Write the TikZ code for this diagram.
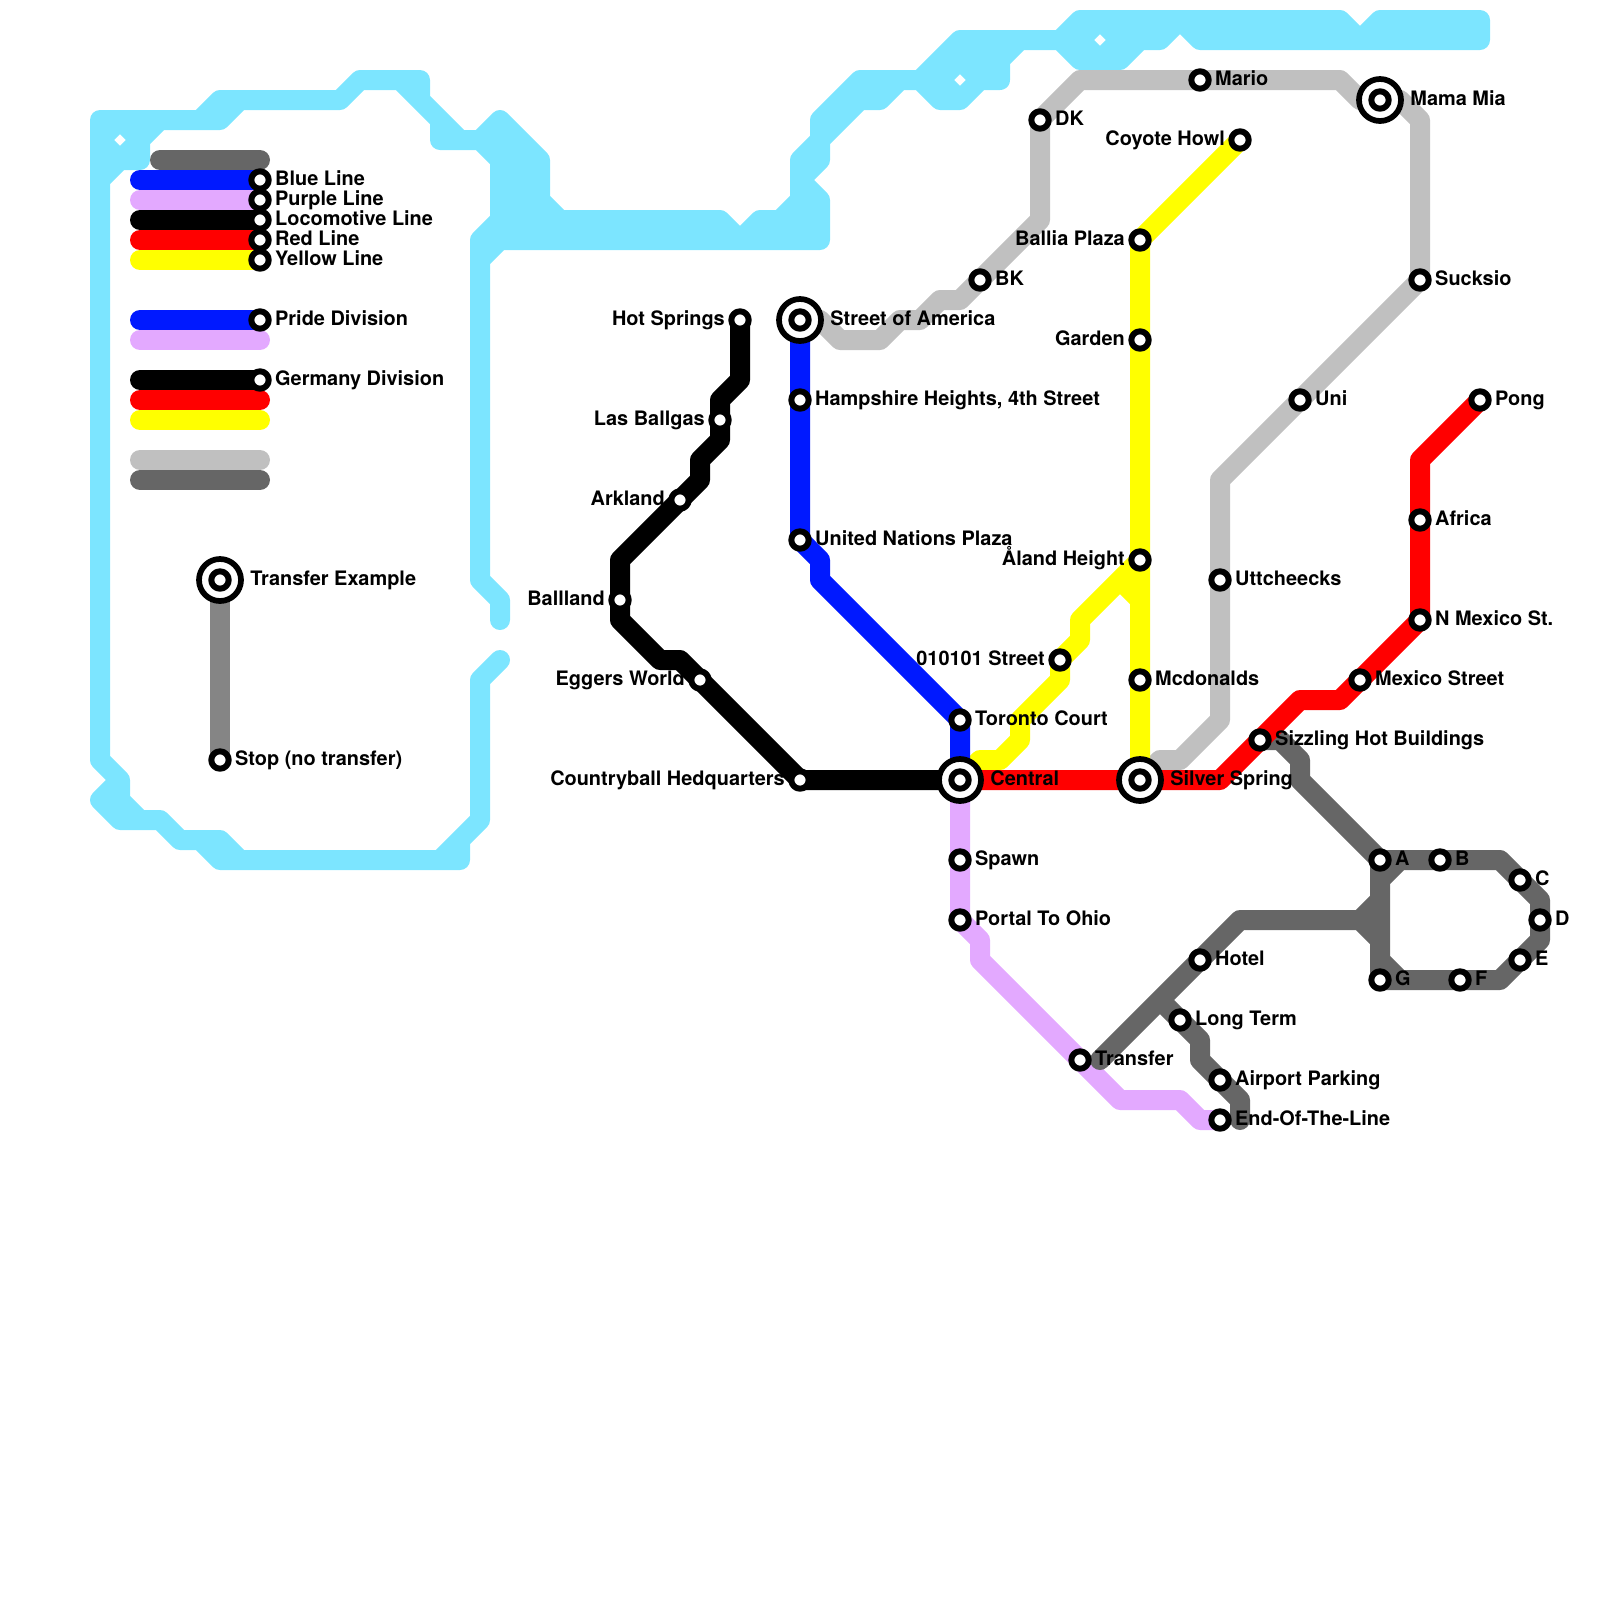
\documentclass[tikz,border=0pt]{standalone}
\usepackage{fontspec}
\setmainfont{TeX Gyre Heros}
\definecolor{skyline}{HTML}{7CE5FF}
\definecolor{blueline}{HTML}{0019FF}
\definecolor{purpleline}{HTML}{E3A9FF}
\definecolor{silverline}{HTML}{C0C0C0}
\definecolor{darkline}{HTML}{666666}
\definecolor{keyline}{HTML}{858585}
\definecolor{yellowline}{HTML}{FFFF00}
\definecolor{redline}{HTML}{FF0000}
\begin{document}
\begin{tikzpicture}[x=.5cm, y=-.5cm, line cap=round, line join=round, line width=.5cm,
	font=\fontsize{14.17}{14.17}\selectfont\bfseries,
	stop/.style={circle, draw=black, fill=white, line width=.15cm, minimum size=.435cm, inner sep=0pt, outer sep=0pt},
	hub/.style={circle, draw=black, fill=white, line width=.143cm, minimum size=1.05cm, inner sep=0pt, outer sep=0pt},
	rtext/.style={anchor=base west, inner sep=0pt, outer sep=0pt, xshift=.38cm, yshift=-.125cm},
	ltext/.style={anchor=base east, inner sep=0pt, outer sep=0pt, xshift=-.38cm, yshift=-.125cm},
	htext/.style={anchor=base west, inner sep=0pt, outer sep=0pt, xshift=.76cm, yshift=-.125cm}]
	\useasboundingbox (0,0) rectangle (80,80);
	
	\foreach \n/\x/\y in {central/48/39,silver/57/39,america/40/16,mamamia/69/5,example/11/29,
		hampshire/40/20,nations/40/27,toronto/48/36,hotsprings/37/16,ballgas/36/21,arkland/34/25,
		ballland/31/30,eggers/35/34,country/40/39,spawn/48/43,portal/48/46,transfer/54/53,endline/61/56,
		sizzling/63/37,mexico/68/34,nmexico/71/31,africa/71/26,pong/74/20,bk/49/14,dk/52/6,mario/60/4,
		sucksio/71/14,uni/65/20,uttcheecks/61/29,coyote/62/7,ballia/57/12,garden/57/17,aland/57/28,
		mcdonalds/57/34,street/53/33,hotel/60/48,longterm/59/51,airport/61/54,
		a/69/43,b/72/43,c/76/44,d/77/46,e/76/48,f/73/49,g/69/49,
		keyblue/13/9,keypurple/13/10,keyblack/13/11,keyred/13/12,keyyellow/13/13,
		keypride/13/16,keygermany/13/19,keystop/11/38}
	\coordinate (\n) at (\x,\y);
	
	% water
	\draw[skyline] (5,9)--(6,8)--(7,8)--(7,7)--(8,6)
	(5,7)--(6,6)--(7,7)--(6,8)--cycle
	(5,38)--(5,6)--(11,6)--(12,5)
	(10,6)--(11,5)--(17,5)--(18,4)--(21,4)--(21,5)
	(20,4)--(23,7) (22,6)--(22,7)--(24,7)--(25,6)--(27,8)--(27,10)--(28,11)--(36,11)--(37,12)--(38,11)--(39,11)--(40,10)--(40,8)--(41,7)--(41,6)--(43,4)--(46,4)--(48,2)--(53,2)--(54,1)--(67,1)--(68,2)--(69,1)--(74,1)--(74,2)--(60,2)--(59,1)--(58,2)--(56,2)
	(57,2)--(56,3)--(54,3)--(53,2)--(54,2)
	(54,2)--(55,1)--(56,2)--(55,3)--cycle
	(24,7)--(25,8)--(25,11)--(24,12)--(24,29)--(25,30)--(25,31)
	(25,6)--(25,8) (25.5,7)--(25.5,12) (26,7)--(26,12) (26.5,8)--(26.5,12) (27,10)--(27,12) (27,11)--(28,11)
	(24,13)--(25,12)--(41,12)--(41,10)--(40,9)--(41,8)--(41,7)--(43,5)--(44,5)--(45,4)
	(28,11.5)--(36,11.5) (38,11.5)--(41,11.5) (40,10)--(40,12) (40.5,10)--(40.5,12)
	(46,4)--(47,5)--(48,5)--(51,2)
	(47,4)--(48,3)--(49,4)--(48,5)--cycle
	(48,2)--(50,4)--(50,3) (49,3)--(50,3) (49,4)--(50,4) (49,2.5)--(50,3.5)
	(43,4.5)--(44,4.5)
	(56,1.5)--(57.5,1.5) (60,1.5)--(67,1.5) (69,1.5)--(74,1.5)
	(25,33)--(24,34)--(24,41)--(22,43)
	(23,42)--(23,43)--(12,43)--(11,42)--(9,42)--(8,41)--(7,41)--(6,40)--(6,39)--(5,38)
	(10,42)--(11,43)--(12,43)
	(6,39)--(5,40)--(6,41)--(8,41);
	
	% lines
	\draw[purpleline] (central)--(portal)--(49,47)--(49,48)--(56,55)--(59,55)--(60,56)--(endline);
	\draw[darkline] (sizzling)--(64,37)--(65,38)--(65,39)--(a)--(b)--(75,43)--(c)--(77,45)--(d)--(77,47)--(e)--(75,49)--(f)--(g)--(a)
	(69,44)--(70,43) (69,48)--(70,49) (69,45)--(68,46)--(69,47)
	(68,46)--(62,46)--(hotel)--(55,53)
	(58,50)--(longterm)--(60,52)--(60,53)--(airport)--(62,55)--(62,56);
	\draw[silverline] (america)--(41,16)--(42,17)--(44,17)--(45,16)--(46,16)--(47,15)--(48,15)--(bk)--(52,11)--(dk)--(54,4)--(mario)--(67,4)--(68,5)--(mamamia)--(70,5)--(71,6)--(sucksio)--(uni)--(61,24)--(uttcheecks)--(61,36)--(59,38)--(58,38)--(silver);
	\draw[yellowline] (coyote)--(ballia)--(garden)--(aland)--(mcdonalds)--(silver)
	(aland)--(56,29)--(57,30)
	(56,29)--(54,31)--(54,32)--(street)--(53,34)--(51,36)--(51,37)--(50,38)--(49,38)--(central);
	\draw[blueline] (america)--(hampshire)--(nations)--(41,28)--(41,29)--(toronto)--(central);
	\draw[black] (hotsprings)--(37,19)--(36,20)--(ballgas)--(36,22)--(35,23)--(35,24)--(arkland)--(31,28)--(ballland)--(31,31)--(33,33)--(34,33)--(eggers)--(country)--(central);
	\draw[redline] (central)--(silver)--(61,39)--(sizzling)--(65,35)--(67,35)--(mexico)--(nmexico)--(africa)--(71,23)--(pong);
	
	% key
	\draw[darkline] (8,8)--(13,8);
	\draw[blueline] (7,9)--(keyblue);
	\draw[purpleline] (7,10)--(keypurple);
	\draw[black] (7,11)--(keyblack);
	\draw[redline] (7,12)--(keyred);
	\draw[yellowline] (7,13)--(keyyellow);
	\draw[blueline] (7,16)--(keypride);
	\draw[purpleline] (7,17)--(13,17);
	\draw[black] (7,19)--(keygermany);
	\draw[redline] (7,20)--(13,20);
	\draw[yellowline] (7,21)--(13,21);
	\draw[silverline] (7,23)--(13,23);
	\draw[darkline] (7,24)--(13,24);
	\draw[keyline] (example)--(keystop);
	
	% transfers
	\foreach \n/\t in {central/Central,silver/Silver Spring,america/Street of America,mamamia/Mama Mia,example/Transfer Example}{
		\node[hub] (\n-hub) at (\n) {};
		\node[stop] (\n-stop) at (\n) {};
		\node[htext] (\n-text) at (\n) {\t};
	}
	% stations, name to the right
	\foreach \n/\t in {hampshire/{Hampshire Heights, 4th Street},nations/United Nations Plaza,toronto/Toronto Court,spawn/Spawn,portal/Portal To Ohio,
		transfer/Transfer,endline/End-Of-The-Line,sizzling/Sizzling Hot Buildings,mexico/Mexico Street,nmexico/N Mexico St.,africa/Africa,pong/Pong,
		bk/BK,dk/DK,mario/Mario,sucksio/Sucksio,uni/Uni,uttcheecks/Uttcheecks,mcdonalds/Mcdonalds,hotel/Hotel,longterm/Long Term,airport/Airport Parking,
		a/A,b/B,c/C,d/D,e/E,f/F,g/G,keyblue/Blue Line,keypurple/Purple Line,keyblack/Locomotive Line,keyred/Red Line,keyyellow/Yellow Line,
		keypride/Pride Division,keygermany/Germany Division,keystop/Stop (no transfer)}{
		\node[stop] (\n-stop) at (\n) {};
		\node[rtext] (\n-text) at (\n) {\t};
	}
	% stations, name to the left
	\foreach \n/\t in {hotsprings/Hot Springs,ballgas/Las Ballgas,arkland/Arkland,ballland/Ballland,eggers/Eggers World,country/Countryball Hedquarters,
		coyote/Coyote Howl,ballia/Ballia Plaza,garden/Garden,aland/Åland Height,street/010101 Street}{
		\node[stop] (\n-stop) at (\n) {};
		\node[ltext] (\n-text) at (\n) {\t};
	}
\end{tikzpicture}
\end{document}
